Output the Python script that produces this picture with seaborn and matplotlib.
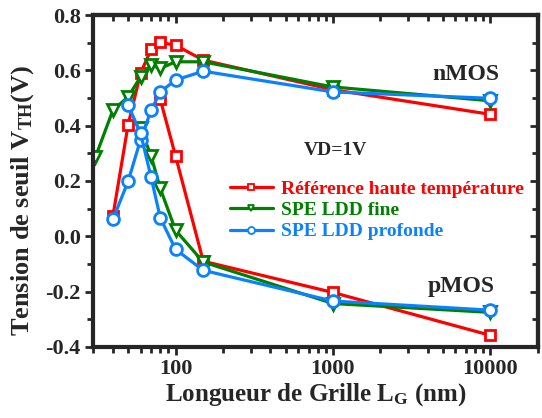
import numpy as np
import pandas as pd
import matplotlib
matplotlib.use("Agg")
import matplotlib.pyplot as plt
import seaborn as sns
from matplotlib.lines import Line2D
from matplotlib.ticker import FixedLocator, NullFormatter, LogLocator, MultipleLocator

# ---- data ----
series_names = ["Référence haute température", "SPE LDD fine", "SPE LDD profonde"]

L_n_ref = [40, 50, 60, 70, 80, 100, 150, 1000, 10000]
V_n_ref = [0.073, 0.404, 0.59, 0.676, 0.701, 0.691, 0.637, 0.53, 0.441]
L_p_ref = [80, 100, 150, 1000, 10000]
V_p_ref = [0.495, 0.291, -0.09, -0.203, -0.358]

L_n_fine = [31, 40, 50, 60, 70, 80, 100, 150, 1000, 10000]
V_n_fine = [0.287, 0.456, 0.504, 0.577, 0.619, 0.607, 0.631, 0.631, 0.54, 0.49]
L_p_fine = [60, 70, 80, 100, 150, 1000, 10000]
V_p_fine = [0.39, 0.29, 0.173, 0.022, -0.093, -0.243, -0.275]

L_n_prof = [40, 50, 60, 70, 80, 100, 150, 1000, 10000]
V_n_prof = [0.061, 0.199, 0.35, 0.456, 0.522, 0.565, 0.597, 0.522, 0.499]
L_p_prof = [50, 60, 70, 80, 100, 150, 1000, 10000]
V_p_prof = [0.474, 0.372, 0.213, 0.067, -0.047, -0.123, -0.234, -0.267]

x_tick_values = [100, 1000, 10000]
x_tick_labels = ["100", "1000", "10000"]
y_tick_values = [-0.4, -0.2, 0.0, 0.2, 0.4, 0.6, 0.8]
y_tick_labels = ["-0.4", "-0.2", "0.0", "0.2", "0.4", "0.6", "0.8"]

rows = []
for name, (Ln, Vn, Lp, Vp) in zip(series_names, [
        (L_n_ref, V_n_ref, L_p_ref, V_p_ref),
        (L_n_fine, V_n_fine, L_p_fine, V_p_fine),
        (L_n_prof, V_n_prof, L_p_prof, V_p_prof)]):
    for l, v in zip(Ln, Vn):
        rows.append(dict(serie=name, branche="nMOS", L=l, V=v))
    for l, v in zip(Lp, Vp):
        rows.append(dict(serie=name, branche="pMOS", L=l, V=v))
df = pd.DataFrame(rows)

# ---- style ----
sns.set_style("ticks")
plt.rcParams["font.family"] = ["Liberation Serif", "DejaVu Serif"]
plt.rcParams["font.weight"] = "bold"
plt.rcParams["mathtext.fontset"] = "custom"
plt.rcParams["mathtext.rm"] = "Liberation Serif:bold"
plt.rcParams["mathtext.it"] = "Liberation Serif:bold"
plt.rcParams["mathtext.bf"] = "Liberation Serif:bold"

colors = {series_names[0]: "#FF0000", series_names[1]: "#008000", series_names[2]: "#0A82FF"}
markers = {series_names[0]: "s", series_names[1]: "v", series_names[2]: "o"}
msizes = {series_names[0]: 7.0, series_names[1]: 8.5, series_names[2]: 8.5}

fig = plt.figure(figsize=(5.42, 4.18), dpi=100)
ax = fig.add_axes([0.172, 0.170, 0.820, 0.794])

for name in series_names:
    for br in ["nMOS", "pMOS"]:
        sub = df[(df.serie == name) & (df.branche == br)]
        sns.lineplot(data=sub, x="L", y="V", ax=ax, sort=False, estimator=None,
                     color=colors[name], lw=2.3, marker=markers[name],
                     markersize=msizes[name], markerfacecolor="white",
                     markeredgecolor=colors[name], markeredgewidth=2.0,
                     legend=False)

ax.set_xscale("log")
ax.set_xlim(30, 20000)
ax.set_ylim(-0.4, 0.8)

ax.xaxis.set_major_locator(FixedLocator(x_tick_values))
ax.set_xticklabels(x_tick_labels)
ax.xaxis.set_minor_locator(LogLocator(base=10, subs=np.arange(2, 10)))
ax.xaxis.set_minor_formatter(NullFormatter())
ax.yaxis.set_major_locator(FixedLocator(y_tick_values))
ax.set_yticklabels(y_tick_labels)
ax.yaxis.set_minor_locator(MultipleLocator(0.1))

for sp in ax.spines.values():
    sp.set_linewidth(3)
    sp.set_visible(True)

ax.tick_params(axis="both", which="major", direction="out", length=6, width=2,
               labelsize=16, pad=3)
ax.tick_params(axis="both", which="minor", direction="out", length=4, width=2)
ax.tick_params(axis="x", which="both", top=False)
ax.tick_params(axis="y", which="both", right=False)
axt = ax.secondary_xaxis("top")
axt.xaxis.set_major_locator(FixedLocator(x_tick_values))
axt.xaxis.set_minor_locator(LogLocator(base=10, subs=np.arange(2, 10)))
axt.xaxis.set_minor_formatter(NullFormatter())
axt.set_xticklabels([])
axt.tick_params(which="major", direction="in", length=6, width=2)
axt.tick_params(which="minor", direction="in", length=4, width=2)
axt.spines["top"].set_linewidth(3)
axr = ax.secondary_yaxis("right")
axr.yaxis.set_major_locator(FixedLocator(y_tick_values))
axr.yaxis.set_minor_locator(MultipleLocator(0.1))
axr.set_yticklabels([])
axr.tick_params(which="major", direction="in", length=6, width=2)
axr.tick_params(which="minor", direction="in", length=4, width=2)
axr.spines["right"].set_linewidth(3)

for lab in ax.get_xticklabels() + ax.get_yticklabels():
    lab.set_fontweight("bold")

ax.set_xlabel("Longueur de Grille L$_{\\mathrm{G}}$ (nm)", fontsize=18, fontweight="bold", labelpad=1)
ax.set_ylabel("Tension de seuil V$_{\\mathrm{TH}}$(V)", fontsize=19, fontweight="bold")
ax.yaxis.set_label_coords(-0.128, 0.44)

ax.text(0.913, 0.82, "nMOS", transform=ax.transAxes, ha="right", va="center",
        fontsize=17, fontweight="bold")
ax.text(0.904, 0.182, "pMOS", transform=ax.transAxes, ha="right", va="center",
        fontsize=17, fontweight="bold")
ax.text(0.473, 0.593, "VD=1V", transform=ax.transAxes, ha="left", va="center",
        fontsize=14, fontweight="bold")

handles = [Line2D([0], [0], color=colors[n], lw=2.3, marker=markers[n], markersize=5,
                  markerfacecolor="white", markeredgecolor=colors[n], markeredgewidth=1.3)
           for n in series_names]
leg = ax.legend(handles, series_names, loc="upper left", bbox_to_anchor=(0.29, 0.525),
                frameon=False, fontsize=14, handlelength=2.2, handletextpad=0.45,
                labelspacing=0.18, borderaxespad=0)
for t, n in zip(leg.get_texts(), series_names):
    t.set_color(colors[n])
    t.set_fontweight("bold")

fig.savefig("out.png", dpi=100)
